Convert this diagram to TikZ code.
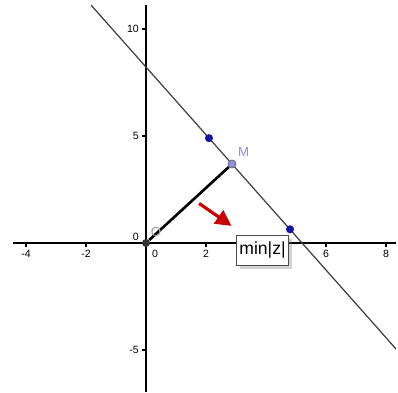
\documentclass[tikz,border=0pt]{standalone}
\usepackage{fontspec}
\setmainfont{Liberation Sans}
\usetikzlibrary{arrows.meta,shadows}
\definecolor{ptblue}{RGB}{20,20,170}
\definecolor{ptlilac}{RGB}{140,140,225}
\definecolor{arrowred}{RGB}{200,0,0}
\begin{document}
\begin{tikzpicture}[
x=0.6cm, y=0.428cm,
axis/.style={draw=black, line width=0.85pt},
tick/.style={draw=black, line width=0.6pt},
ticklabel/.style={font=\fontsize{6}{7}\selectfont, inner sep=1pt},
dot/.style={circle, fill, inner sep=0pt, minimum size=4.6pt},
arrow/.style={-{Triangle[length=9pt,width=9pt]}, arrowred, line width=1.8pt},
labelbox/.style={draw=black!70, fill=white, font=\fontsize{10}{12}\selectfont,
inner xsep=1.5pt, inner ysep=3pt, minimum height=17pt,
drop shadow={opacity=0.35, shadow xshift=2pt, shadow yshift=-2pt}}
]
\useasboundingbox (-4.8667,-6.963) rectangle (8.4,11.355);
\draw[axis] (-4.43,0) -- (8.33,0);
\draw[axis] (0,-6.963) -- (0,11.1);
\foreach \k in {-4,-2,2,4,6,8}
\draw[tick] (\k,0) -- (\k,-0.2);
\foreach \k in {-4,-2,2,6,8}
\node[ticklabel, anchor=north] at (\k,-0.22) {\k};
\node[ticklabel, anchor=north] at (0.3,-0.22) {0};
\foreach \k in {-5,5,10}
{\draw[tick] (0,\k) -- (-0.15,\k);
\node[ticklabel, anchor=east] at (-0.17,\k) {\k};}
\node[ticklabel, anchor=east] at (-0.17,0.3) {0};
\coordinate (L1) at (-1.833,11.12);
\coordinate (L2) at (8.333,-4.95);
\draw[black!75, line width=0.7pt] (L1) -- (L2);
\node[dot, fill=black!80] (O) at (0,0) {};
\node[dot, fill=ptlilac, draw=black!60, line width=0.4pt] (M) at (2.867,3.69) {};
\draw[black, line width=1.5pt] (O) -- (M);
\node[dot, fill=ptblue] (P1) at (2.1,4.9) {};
\node[dot, fill=ptblue] (P2) at (4.8,0.64) {};
\node[text=ptlilac, font=\fontsize{7.5}{9}\selectfont, inner sep=0pt] (Mlabel) at (3.25,4.25) {M};
\node[text=black!40, font=\fontsize{7.5}{9}\selectfont, inner sep=0pt] (Olabel) at (0.33,0.5) {O};
\node[labelbox] (minz) at (3.883,-0.35) {min|z|};
\coordinate (A) at (1.77,1.85);
\coordinate (B) at (2.85,0.8);
\draw[arrow] (A) -- (B);
\end{tikzpicture}
\end{document}
